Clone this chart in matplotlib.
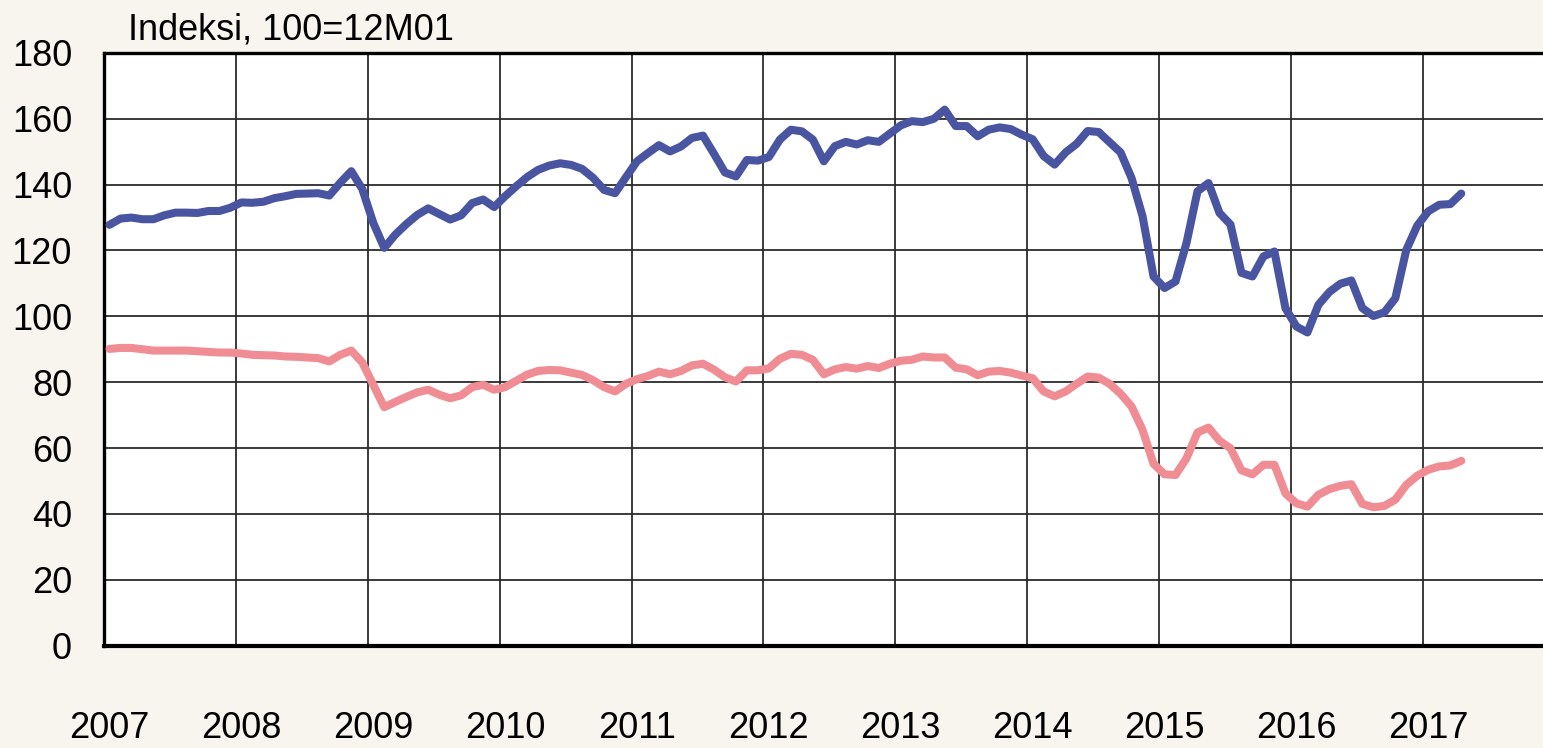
import numpy as np
import pandas as pd
import matplotlib
matplotlib.use("Agg")
import matplotlib.pyplot as plt


# config =========================================================
FIG_W, FIG_H, DPI = 15.43, 7.48, 100
BG_COLOR = "#F8F4EE"
BLUE = "#4A55A2"
PINK = "#F08C93"
FONT = ["Liberation Sans", "DejaVu Sans"]
FONT_SIZE = 26
LINE_W = 5.8
# ================================================================

# monthly data, 2007M01 .. 2017M04
months = pd.period_range("2007-01", "2017-04", freq="M")
years = list(range(2007, 2018))
title_text = "Indeksi, 100=12M01"

blue_values = [
    127.8, 129.7, 130.0, 129.5, 129.5, 130.7, 131.5, 131.5, 131.4, 132.0, 132.0, 133.0,  # 2007
    134.6, 134.5, 134.8, 135.9, 136.5, 137.2, 137.3, 137.4, 136.7, 140.6, 144.1, 138.7,  # 2008
    128.4, 120.8, 124.8, 128.0, 130.8, 132.8, 131.1, 129.4, 130.7, 134.4, 135.5, 133.2,  # 2009
    136.5, 139.5, 142.3, 144.5, 145.8, 146.5, 146.0, 144.8, 142.1, 138.4, 137.4, 142.3,  # 2010
    147.1, 149.6, 152.0, 150.1, 151.6, 154.2, 154.9, 149.4, 143.7, 142.5, 147.5, 147.3,  # 2011
    148.4, 153.7, 156.7, 156.2, 153.7, 147.1, 151.7, 153.0, 152.2, 153.5, 153.0, 155.5,  # 2012
    158.0, 159.3, 159.0, 160.0, 162.8, 157.8, 157.8, 154.7, 156.7, 157.4, 156.9, 155.2,  # 2013
    153.8, 148.7, 146.1, 149.8, 152.4, 156.3, 156.0, 152.9, 149.8, 142.0, 130.4, 112.1,  # 2014
    108.6, 110.6, 122.3, 138.0, 140.5, 131.4, 127.9, 113.2, 112.1, 118.2, 119.7, 102.5,  # 2015
    96.9, 95.1, 103.5, 107.4, 109.9, 110.9, 102.5, 100.1, 101.2, 105.5, 120.2, 127.6,    # 2016
    131.9, 133.9, 134.1, 137.3,                                                          # 2017
]

pink_values = [
    90.1, 90.4, 90.4, 90.0, 89.6, 89.6, 89.6, 89.6, 89.4, 89.2, 89.0, 89.0,  # 2007
    88.7, 88.3, 88.2, 88.1, 87.8, 87.7, 87.5, 87.3, 86.3, 88.3, 89.6, 86.0,  # 2008
    79.2, 72.4, 74.0, 75.5, 76.9, 77.7, 76.2, 75.1, 76.0, 78.5, 79.2, 77.7,  # 2009
    78.5, 80.4, 82.3, 83.4, 83.7, 83.6, 82.9, 82.2, 80.6, 78.5, 77.2, 79.5,  # 2010
    80.9, 81.9, 83.2, 82.4, 83.4, 85.1, 85.6, 83.8, 81.5, 80.2, 83.6, 83.6,  # 2011
    84.2, 87.1, 88.6, 88.3, 86.8, 82.4, 83.9, 84.6, 84.1, 84.9, 84.3, 85.6,  # 2012
    86.5, 86.8, 87.8, 87.5, 87.5, 84.4, 83.9, 82.1, 83.2, 83.4, 82.9, 82.0,  # 2013
    81.2, 77.2, 75.7, 77.2, 79.5, 81.7, 81.4, 79.5, 76.5, 72.6, 65.5, 55.2,  # 2014
    52.0, 51.8, 56.9, 64.7, 66.2, 62.2, 59.9, 53.2, 52.0, 54.9, 54.9, 46.2,  # 2015
    43.2, 42.2, 45.8, 47.5, 48.5, 49.0, 43.0, 42.0, 42.4, 44.3, 48.8, 51.6,  # 2016
    53.4, 54.4, 54.7, 56.1,                                                  # 2017
]

plt.rcParams["font.family"] = FONT

fig = plt.figure(figsize=(FIG_W, FIG_H), dpi=DPI, facecolor=BG_COLOR)
# axes runs off the right edge of the picture, like the original
ax = fig.add_axes([104 / 1543, 102.5 / 748, 1 - 104 / 1543, 592.5 / 748])
ax.set_facecolor("white")

# months sit in the middle of their category slot
x = np.arange(len(months)) + 0.5
ax.plot(x, blue_values, color=BLUE, lw=LINE_W, solid_capstyle="round", solid_joinstyle="round", zorder=3)
ax.plot(x, pink_values, color=PINK, lw=LINE_W, solid_capstyle="round", solid_joinstyle="round", zorder=3)

ax.set_xlim(0, (1543 - 104) / 10.99)
ax.set_ylim(0, 180)

# year gridlines on major ticks, year labels on minor ticks
year_pos = [12 * (y - years[0]) for y in years]
ax.set_xticks(year_pos)
ax.set_xticklabels([])
ax.set_xticks([p + 0.5 for p in year_pos], minor=True)
ax.set_xticklabels([str(y) for y in years], minor=True, fontsize=FONT_SIZE)
ax.tick_params(axis="x", which="both", length=0)
ax.tick_params(axis="x", which="minor", pad=47)

ax.set_yticks(range(0, 181, 20))
ax.tick_params(axis="y", length=0, pad=23, labelsize=FONT_SIZE)

ax.grid(True, which="major", color="#2b2b2b", lw=1.3, zorder=1)

for side in ["left", "top"]:
    ax.spines[side].set_linewidth(2.4)
    ax.spines[side].set_color("black")
ax.spines["bottom"].set_linewidth(3.0)
ax.spines["bottom"].set_color("black")
ax.spines["right"].set_visible(False)

fig.text(128 / 1543, 1 - 40 / 748, title_text, fontsize=FONT_SIZE, va="baseline", ha="left")

fig.savefig("out.png", dpi=DPI, facecolor=BG_COLOR)
